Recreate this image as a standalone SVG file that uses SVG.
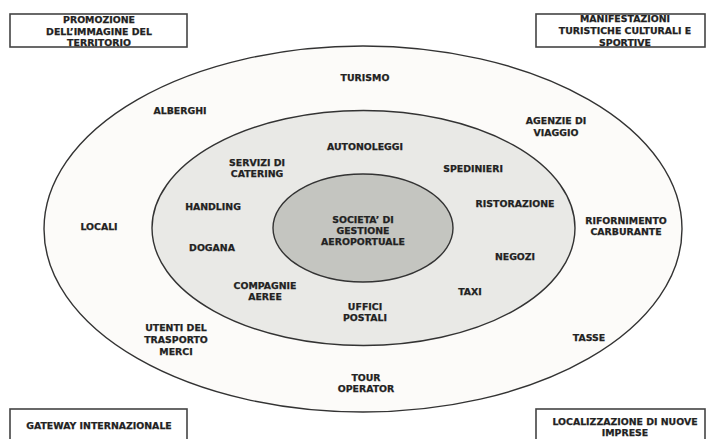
<svg xmlns="http://www.w3.org/2000/svg" width="706" height="439" viewBox="0 0 706 439">
<style>
  .lbl { font-family: "DejaVu Sans", Verdana, sans-serif; font-weight: bold; font-size: 9.4px; fill: #222222; stroke: #222222; stroke-width: 0.25; text-anchor: middle; }
  .ring { stroke: #333333; stroke-width: 1.4; }
  .box { fill: #ffffff; stroke: #444444; stroke-width: 1.6; }
</style>
<rect width="706" height="439" fill="#ffffff"/>
<g id="ring-outer"><ellipse class="ring" cx="363" cy="229" rx="319" ry="183" fill="#fcfbf9"/></g>
<g id="ring-middle"><ellipse class="ring" cx="363.5" cy="228" rx="211.5" ry="117.5" fill="#e9e9e6"/></g>
<g id="ring-inner"><ellipse class="ring" cx="363" cy="228" rx="90" ry="54" fill="#c4c5c0"/></g>
<g id="connectors"/>
<g id="box-promozione"><rect class="box" x="10" y="14" width="177" height="33"/>
  <text class="lbl" x="99" y="23.4">PROMOZIONE</text>
  <text class="lbl" x="99" y="35">DELL’IMMAGINE DEL</text>
  <text class="lbl" x="99" y="46.4">TERRITORIO</text></g>
<g id="box-manifestazioni"><rect class="box" x="536" y="14" width="169" height="33"/>
  <text class="lbl" x="625" y="22.4">MANIFESTAZIONI</text>
  <text class="lbl" x="625" y="34.4">TURISTICHE CULTURALI E</text>
  <text class="lbl" x="625" y="46.4">SPORTIVE</text></g>
<g id="box-gateway"><rect class="box" x="10" y="409" width="177" height="40"/>
  <text class="lbl" x="99" y="429.4">GATEWAY INTERNAZIONALE</text></g>
<g id="box-localizzazione"><rect class="box" x="536" y="409" width="169" height="40"/>
  <text class="lbl" x="625" y="425.4">LOCALIZZAZIONE DI NUOVE</text>
  <text class="lbl" x="625" y="435.8">IMPRESE</text></g>
<g id="n-turismo"><text class="lbl" x="365" y="81.4">TURISMO</text></g>
<g id="n-alberghi"><text class="lbl" x="180" y="114.4">ALBERGHI</text></g>
<g id="n-agenzie"><text class="lbl" x="556" y="124.4">AGENZIE DI</text><text class="lbl" x="556" y="136.4">VIAGGIO</text></g>
<g id="n-autonoleggi"><text class="lbl" x="365" y="150.4">AUTONOLEGGI</text></g>
<g id="n-catering"><text class="lbl" x="257" y="166.4">SERVIZI DI</text><text class="lbl" x="257" y="177.4">CATERING</text></g>
<g id="n-spedinieri"><text class="lbl" x="473" y="172.4">SPEDINIERI</text></g>
<g id="n-handling"><text class="lbl" x="213" y="210.4">HANDLING</text></g>
<g id="n-ristorazione"><text class="lbl" x="515" y="207.4">RISTORAZIONE</text></g>
<g id="n-locali"><text class="lbl" x="99" y="230.4">LOCALI</text></g>
<g id="n-rifornimento"><text class="lbl" x="626" y="224.4">RIFORNIMENTO</text><text class="lbl" x="626" y="235.4">CARBURANTE</text></g>
<g id="n-dogana"><text class="lbl" x="212" y="251.4">DOGANA</text></g>
<g id="n-negozi"><text class="lbl" x="515" y="260.4">NEGOZI</text></g>
<g id="n-compagnie"><text class="lbl" x="265" y="289.4">COMPAGNIE</text><text class="lbl" x="265" y="300.4">AEREE</text></g>
<g id="n-taxi"><text class="lbl" x="470" y="295.4">TAXI</text></g>
<g id="n-uffici"><text class="lbl" x="365" y="310.4">UFFICI</text><text class="lbl" x="365" y="321.4">POSTALI</text></g>
<g id="n-utenti"><text class="lbl" x="176" y="331.4">UTENTI DEL</text><text class="lbl" x="176" y="343">TRASPORTO</text><text class="lbl" x="176" y="354.6">MERCI</text></g>
<g id="n-tasse"><text class="lbl" x="589" y="341.4">TASSE</text></g>
<g id="n-tour"><text class="lbl" x="366" y="381.4">TOUR</text><text class="lbl" x="366" y="392.4">OPERATOR</text></g>
<g id="n-societa"><text class="lbl" x="363" y="223.4">SOCIETA’ DI</text><text class="lbl" x="363" y="234.4">GESTIONE</text><text class="lbl" x="363" y="245.4">AEROPORTUALE</text></g>
</svg>
